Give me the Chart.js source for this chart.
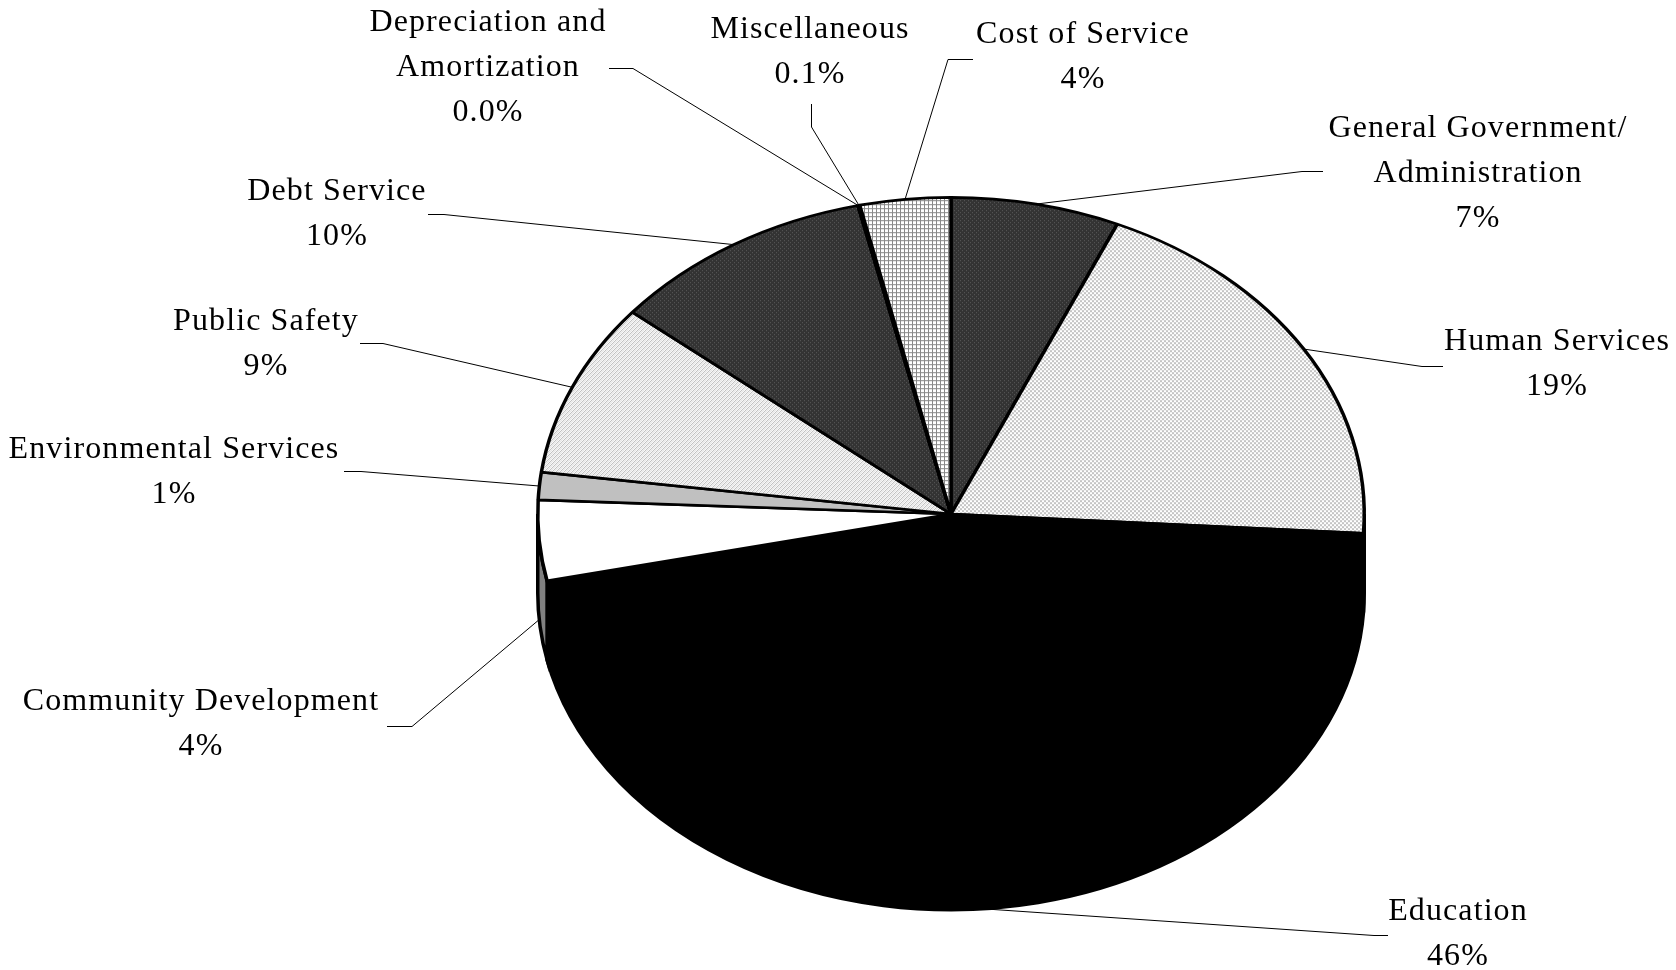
<!DOCTYPE html>
<html><head><meta charset="utf-8">
<style>html,body{margin:0;padding:0;background:#fff}canvas{display:block}</style>
<script src="https://cdn.jsdelivr.net/npm/chart.js@4"></script>
</head><body><canvas id="c" width="1676" height="970"></canvas>
<script>
const categories = ["General Government/ Administration","Human Services","Education","Community Development","Environmental Services","Public Safety","Debt Service","Depreciation and Amortization","Miscellaneous","Cost of Service"];
const shares = [6.6,19.4,45.7,4.1,1.4,8.9,10.4,0.01,0.06,3.55];
const percentLabels = ["7%","19%","46%","4%","1%","9%","10%","0.0%","0.1%","4%"];
const labelLines = [["General Government/","Administration"],["Human Services"],["Education"],["Community Development"],["Environmental Services"],["Public Safety"],["Debt Service"],["Depreciation and","Amortization"],["Miscellaneous"],["Cost of Service"]];

const FLAT = 318/415, DEPTH = 79, CX = 951, CY = 514;
const FONT = '32px "Liberation Serif"';
const labelPos = [[1478,129],[1557,342],[1458,912],[201,702],[174,450],[266,322],[337,192],[488,23],[810,30],[1083,35]];
const leaders = [[[1302,171.5],[1323,171.5]],[[1422,366.5],[1443,366.5]],[[1374,935.5],[1388,935.5]],[[412,726.5],[387,726.5]],[[361,471.5],[344,471.5]],[[383,343.5],[360,343.5]],[[444,214.5],[428,214.5]],[[633,68.5],[609,68.5]],[[811.5,127],[811.5,104]],[[948,59.5],[973,59.5]]];
const sideColors = ["#333","#ddd","#000","#808080","#c0c0c0","#ddd","#333","#888","#888","#ddd"];

function pat(size, paint){
  const c=document.createElement('canvas');c.width=c.height=size;
  const x=c.getContext('2d');x.fillStyle='#fff';x.fillRect(0,0,size,size);paint(x);
  const p=x.createPattern(c,'repeat');
  p.setTransform(new DOMMatrix().scale(1,1/FLAT));
  return p;
}
const darkDots = pat(4,x=>{x.fillStyle='#333';x.fillRect(0,0,4,4);x.fillStyle='#5a5a5a';x.fillRect(0,0,1,1);x.fillRect(2,2,1,1);});
const lightDots = pat(4,x=>{x.fillStyle='#c4c4c4';x.fillRect(0,0,2,2);x.fillRect(2,2,2,2);});
const diag = pat(4,x=>{x.fillStyle='#b4b4b4';for(let i=0;i<4;i++)x.fillRect(i,3-i,1,1);x.fillStyle='#e0e0e0';for(let i=0;i<4;i++)x.fillRect(i,(5-i)%4,1,1);});
const grid = pat(4,x=>{x.fillStyle='#888';x.fillRect(0,0,4,1);x.fillRect(0,0,1,4);});
const fills=[darkDots,lightDots,'#000','#fff','#c0c0c0',diag,darkDots,'#444','#444',grid];

const pieShape = {
  id:'pieShape',
  beforeDatasetsDraw(chart){
    const ctx=chart.ctx, arcs=chart.getDatasetMeta(0).data;
    ctx.save();
    arcs.forEach((a,i)=>{
      const s=a.startAngle,e=a.endAngle;
      const a0=Math.max(s,0), a1=Math.min(e,Math.PI);
      if(a1<=a0) return;
      const R=a.outerRadius;
      ctx.beginPath();
      ctx.ellipse(a.x,a.y,R,R*FLAT,0,a0,a1);
      ctx.ellipse(a.x,a.y+DEPTH,R,R*FLAT,0,a1,a0,true);
      ctx.closePath();
      ctx.fillStyle=sideColors[i];ctx.fill();
      ctx.strokeStyle='#000';ctx.lineWidth=3.5;ctx.stroke();
    });
    ctx.restore();
    const a=arcs[0];
    ctx.save();
    ctx.translate(a.x,a.y);ctx.scale(1,FLAT);ctx.translate(-a.x,-a.y);
  },
  afterDatasetsDraw(chart){
    chart.ctx.restore();
    const ctx=chart.ctx, arcs=chart.getDatasetMeta(0).data;
    ctx.save();
    ctx.strokeStyle='#000';ctx.lineWidth=1;
    arcs.forEach((a,i)=>{
      const m=(a.startAngle+a.endAngle)/2, R=a.outerRadius;
      let py=a.y+Math.sin(m)*R*FLAT;
      if(Math.sin(m)>0) py+=DEPTH;
      const px=a.x+Math.cos(m)*R;
      ctx.beginPath();ctx.moveTo(px,py);
      leaders[i].forEach(p=>ctx.lineTo(p[0],p[1]));
      ctx.stroke();
    });
    ctx.fillStyle='#000';ctx.font=FONT;ctx.textAlign='center';ctx.textBaseline='middle';
    ctx.letterSpacing='1.1px';
    const LH=45;
    categories.forEach((c,i)=>{
      const lines=[...labelLines[i],percentLabels[i]];
      lines.forEach((t,k)=>ctx.fillText(t,labelPos[i][0],labelPos[i][1]+k*LH));
    });
    ctx.restore();
  }
};

new Chart(document.getElementById('c'),{
  type:'pie',
  data:{labels:categories,datasets:[{data:shares,backgroundColor:fills,borderColor:'#000',borderWidth:3.5,clip:false}]},
  options:{
    responsive:false,animation:false,devicePixelRatio:1,
    layout:{padding:{left:CX-415,right:1676-CX-415,top:CY-415,bottom:970-CY-415}},
    plugins:{legend:{display:false},tooltip:{enabled:false},title:{display:false}}
  },
  plugins:[pieShape]
});
</script></body></html>
